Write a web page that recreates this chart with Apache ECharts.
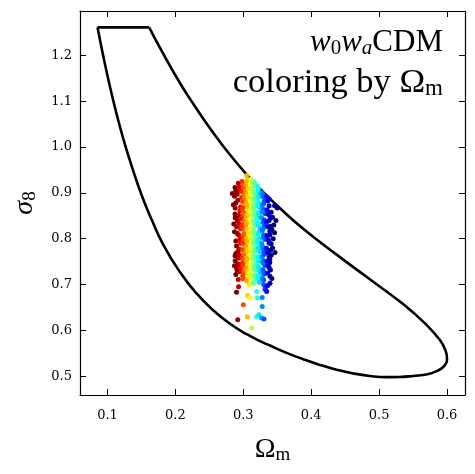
<!DOCTYPE html>
<html>
<head>
<meta charset="utf-8">
<script src="https://cdn.jsdelivr.net/npm/echarts@6/dist/echarts.min.js"></script>
<style>
html,body{margin:0;padding:0;background:#fff;}
#main{width:475px;height:474px;}
</style>
</head>
<body>
<div id="main"></div>
<script>
// Contour (clockwise from top-right corner to top-left corner)
const contourOm = [0.1613,0.1824,0.2069,0.2315,0.2559,0.2804,0.3050,0.3294,0.3540,0.3882,0.4374,0.4863,0.5353,0.5697,0.5893,0.5974,0.6000,0.5959,0.5863,0.5716,0.5500,0.5304,0.5109,0.4863,0.4618,0.4374,0.4128,0.3882,0.3638,0.3393,0.3294,0.3050,0.2804,0.2559,0.2315,0.2069,0.1824,0.1650,0.1509,0.1372,0.1235,0.1129,0.1034,0.0937,0.0853];
const contourS8 = [1.2613,1.2028,1.1394,1.0830,1.0309,0.9832,0.9401,0.9016,0.8666,0.8217,0.7653,0.7115,0.6574,0.6122,0.5794,0.5575,0.5389,0.5225,0.5122,0.5043,0.5006,0.4984,0.4980,0.5006,0.5061,0.5142,0.5247,0.5371,0.5509,0.5669,0.5734,0.5916,0.6144,0.6437,0.6800,0.7268,0.7861,0.8419,0.8928,0.9513,1.0169,1.0753,1.1335,1.1991,1.2613];

// Scatter samples
const omegaM = [
0.2926,0.2838,0.2853,0.2878,0.2900,0.2950,0.2900,0.2950,0.2937,0.2976,0.2878,0.2878,0.2900,0.2926,0.2900,0.2918,0.2890,0.2920,0.2880,0.2910,0.2870,0.2930,0.2890,0.2940,0.2880,0.2920,0.2950,0.2890,0.2930,0.2960,0.2910,0.2940,0.2860,0.2960,0.2920,
0.287,0.289,0.293,0.288,0.294,0.291,0.296,0.289,0.294,0.291,0.287,0.295,0.293,0.291,0.296,
0.298,0.300,0.298,0.301,0.299,0.302,0.298,0.300,0.297,0.301,0.299,0.302,0.298,0.300,0.302,0.299,0.301,0.298,0.302,0.300,0.297,0.301,0.300,0.299,0.303,0.303,
0.300,0.302,0.299,0.301,0.302,0.298,0.301,0.299,0.302,0.300,0.298,0.302,0.300,
0.3059,0.3065,0.3098,0.3084,0.305,0.306,0.304,0.307,0.305,0.307,0.304,0.306,0.308,0.305,0.307,0.304,0.306,0.308,0.305,0.307,0.304,0.306,0.308,0.305,0.307,0.304,0.306,0.308,0.305,
0.305,0.307,0.305,0.307,0.305,0.307,0.305,0.307,0.305,0.307,
0.3124,0.311,0.310,0.312,0.311,0.313,0.310,0.312,0.311,0.313,0.310,0.312,0.311,0.313,0.310,0.312,0.311,0.313,0.310,0.312,0.311,0.313,0.310,0.312,0.313,
0.312,0.311,0.312,0.311,0.312,0.311,0.312,0.311,0.312,0.311,0.311,
0.3197,0.3206,0.3197,0.316,0.317,0.315,0.318,0.316,0.318,0.315,0.317,0.319,0.316,0.318,0.315,0.317,0.319,0.316,0.318,0.315,0.317,0.319,0.316,0.318,0.317,0.319,0.316,
0.317,0.318,0.316,0.317,0.318,0.316,0.317,0.318,0.316,0.317,
0.3231,0.321,0.322,0.324,0.321,0.323,0.325,0.322,0.324,0.321,0.323,0.325,0.322,0.324,0.321,0.323,0.325,0.322,0.324,0.321,0.323,0.325,0.322,0.324,
0.322,0.323,0.322,0.323,0.322,0.323,0.322,0.323,0.322,0.323,0.322,
0.327,0.3304,0.3279,0.3279,0.327,0.329,0.331,0.328,0.330,0.332,0.327,0.329,0.331,0.328,0.330,0.332,0.327,0.329,0.331,0.328,0.330,0.332,0.329,0.331,0.328,0.330,0.332,
0.329,0.330,0.328,0.331,0.329,0.330,0.328,0.331,0.329,0.330,0.330,0.333,
0.3344,0.3466,0.3393,0.3393,0.334,0.336,0.338,0.335,0.337,0.340,0.334,0.336,0.339,0.335,0.337,0.341,0.334,0.336,0.338,0.335,0.337,0.340,0.336,0.346,0.343,0.342,0.344,0.343,0.341,0.339,0.350,0.348,0.346,
0.338,0.341,0.338,0.340,0.339,0.338,0.340,0.339,0.338,0.342,0.336,0.345
];
const sigma8 = [
0.921,0.899,0.874,0.854,0.826,0.799,0.784,0.861,0.843,0.890,0.912,0.763,0.736,0.711,0.683,0.623,0.905,0.884,0.867,0.838,0.815,0.808,0.795,0.777,0.752,0.745,0.728,0.722,0.758,0.869,0.897,0.913,0.832,0.822,0.772,
0.893,0.878,0.851,0.846,0.832,0.812,0.790,0.768,0.765,0.731,0.741,0.738,0.695,0.902,0.907,
0.925,0.912,0.903,0.895,0.881,0.872,0.862,0.851,0.843,0.834,0.823,0.815,0.806,0.797,0.786,0.776,0.767,0.758,0.749,0.740,0.733,0.725,0.656,0.718,0.905,0.826,
0.919,0.889,0.867,0.857,0.839,0.829,0.810,0.791,0.771,0.755,0.746,0.733,0.712,
0.630,0.676,0.671,0.700,0.938,0.928,0.918,0.909,0.898,0.888,0.879,0.869,0.859,0.850,0.840,0.831,0.820,0.811,0.801,0.792,0.782,0.772,0.762,0.753,0.744,0.735,0.725,0.716,0.708,
0.923,0.893,0.874,0.855,0.836,0.816,0.796,0.777,0.758,0.729,
0.605,0.930,0.920,0.911,0.901,0.891,0.882,0.872,0.862,0.852,0.842,0.833,0.823,0.813,0.803,0.794,0.784,0.774,0.765,0.755,0.745,0.735,0.726,0.716,0.705,
0.925,0.896,0.877,0.857,0.838,0.818,0.799,0.779,0.760,0.740,0.721,
0.685,0.671,0.630,0.925,0.915,0.905,0.896,0.886,0.876,0.866,0.857,0.847,0.837,0.828,0.818,0.808,0.798,0.789,0.779,0.769,0.760,0.750,0.740,0.731,0.721,0.712,0.703,
0.920,0.891,0.871,0.852,0.832,0.813,0.793,0.774,0.755,0.736,
0.634,0.915,0.905,0.896,0.887,0.877,0.868,0.858,0.849,0.839,0.829,0.820,0.810,0.800,0.791,0.781,0.772,0.762,0.752,0.743,0.733,0.724,0.714,0.705,
0.910,0.892,0.872,0.853,0.834,0.815,0.795,0.776,0.757,0.738,0.719,
0.627,0.625,0.652,0.672,0.900,0.891,0.882,0.873,0.864,0.855,0.846,0.836,0.827,0.818,0.808,0.799,0.790,0.780,0.771,0.761,0.752,0.742,0.733,0.723,0.714,0.700,0.690,
0.896,0.877,0.859,0.841,0.822,0.803,0.785,0.766,0.747,0.728,0.710,0.695,
0.685,0.770,0.703,0.718,0.892,0.883,0.872,0.863,0.853,0.845,0.836,0.826,0.817,0.807,0.797,0.789,0.779,0.770,0.760,0.751,0.741,0.732,0.725,0.872,0.847,0.820,0.800,0.780,0.764,0.748,0.867,0.840,0.813,
0.887,0.858,0.840,0.827,0.808,0.790,0.775,0.755,0.737,0.713,0.698,0.830
];

const xTicks = [0.1,0.2,0.3,0.4,0.5,0.6];
const yTicks = [0.5,0.6,0.7,0.8,0.9,1.0,1.1,1.2];
const jetR = ['#800000','#ff0000','#ff8000','#ffff00','#80ff80','#00ffff','#0080ff','#0000ff','#000080'];

const curveData = contourOm.map((x,i)=>[x, contourS8[i]]);
const topEdge = [[contourOm[contourOm.length-1], contourS8[contourS8.length-1]], [contourOm[0], contourS8[0]]];
const pts = omegaM.map((x,i)=>[x, sigma8[i]]);

const XMIN=0.0595, XMAX=0.6265, YMIN=0.459, YMAX=1.297;
const tickFont = {fontFamily:'DejaVu Serif', fontSize:13, color:'#000'};
const axisCommon = {
  axisLine:{show:true, onZero:false, lineStyle:{color:'#000', width:1.2}},
  splitLine:{show:false},
};
function mkX(pos, labels){
  return Object.assign({type:'value', position:pos, min:XMIN, max:XMAX,
    axisTick:{show:true, inside:true, length:6, lineStyle:{color:'#000',width:1}, customValues:xTicks},
    axisLabel:Object.assign({show:labels, margin:14, customValues:xTicks, formatter:v=>v.toFixed(1)}, tickFont)
  }, axisCommon);
}
function mkY(pos, labels){
  return Object.assign({type:'value', position:pos, min:YMIN, max:YMAX,
    axisTick:{show:true, inside:true, length:6, lineStyle:{color:'#000',width:1}, customValues:yTicks},
    axisLabel:Object.assign({show:labels, margin:8, customValues:yTicks, formatter:v=>v.toFixed(1)}, tickFont)
  }, axisCommon);
}
const serif = 'Liberation Serif';
const xMain = mkX('bottom', true);
xMain.name = '{a|Ω}{b|m}';
xMain.nameLocation = 'middle';
xMain.nameGap = 40;
xMain.nameTextStyle = {rich:{
  a:{fontFamily:serif, fontWeight:'normal', fontSize:28, color:'#000', lineHeight:30},
  b:{fontFamily:serif, fontWeight:'normal', fontSize:19, color:'#000', lineHeight:16, verticalAlign:'bottom'}
}};
const yMain = mkY('left', true);
yMain.name = '{a|σ}{b|8}';
yMain.nameLocation = 'middle';
yMain.nameGap = 40;
yMain.nameRotate = 90;
yMain.nameTextStyle = {rich:{
  a:{fontFamily:serif, fontWeight:'normal', fontStyle:'italic', fontSize:28, color:'#000', lineHeight:30},
  b:{fontFamily:serif, fontWeight:'normal', fontSize:19, color:'#000', lineHeight:16, verticalAlign:'bottom'}
}};

const chart = echarts.init(document.getElementById('main'), null, {renderer:'canvas'});
chart.setOption({
  animation:false,
  backgroundColor:'#fff',
  grid:{left:80, right:10, top:11, bottom:79, containLabel:false},
  title:[
    {text:'{i|w}{s|0}{i|w}{t|a}{n|CDM}', right:27, top:22,
     textStyle:{fontWeight:'normal', rich:{
       i:{fontFamily:serif, fontWeight:'normal', fontStyle:'italic', fontSize:31, color:'#000', lineHeight:32},
       s:{fontFamily:serif, fontWeight:'normal', fontSize:21, color:'#000', lineHeight:16, verticalAlign:'bottom'},
       t:{fontFamily:serif, fontWeight:'normal', fontStyle:'italic', fontSize:21, color:'#000', lineHeight:16, verticalAlign:'bottom'},
       n:{fontFamily:serif, fontWeight:'normal', fontSize:31, color:'#000', lineHeight:32}
     }}},
    {text:'{n|coloring by Ω}{s|m}', right:27, top:60,
     textStyle:{fontWeight:'normal', rich:{
       n:{fontFamily:serif, fontWeight:'normal', fontSize:34.5, color:'#000', lineHeight:35},
       s:{fontFamily:serif, fontWeight:'normal', fontSize:23, color:'#000', lineHeight:16, verticalAlign:'bottom'}
     }}}
  ],
  xAxis:[xMain, mkX('top', false)],
  yAxis:[yMain, mkY('right', false)],
  visualMap:{type:'continuous', show:false, dimension:0, seriesIndex:2, min:0.290, max:0.341, inRange:{color:jetR}},
  series:[
    {type:'line', data:curveData, showSymbol:false, smooth:0.5, lineStyle:{color:'#000', width:2.6}, z:3, silent:true},
    {type:'line', data:topEdge, showSymbol:false, lineStyle:{color:'#000', width:2.6}, z:3, silent:true},
    {type:'scatter', data:pts, symbolSize:5, itemStyle:{opacity:1}, z:4}
  ]
});
</script>
</body>
</html>
